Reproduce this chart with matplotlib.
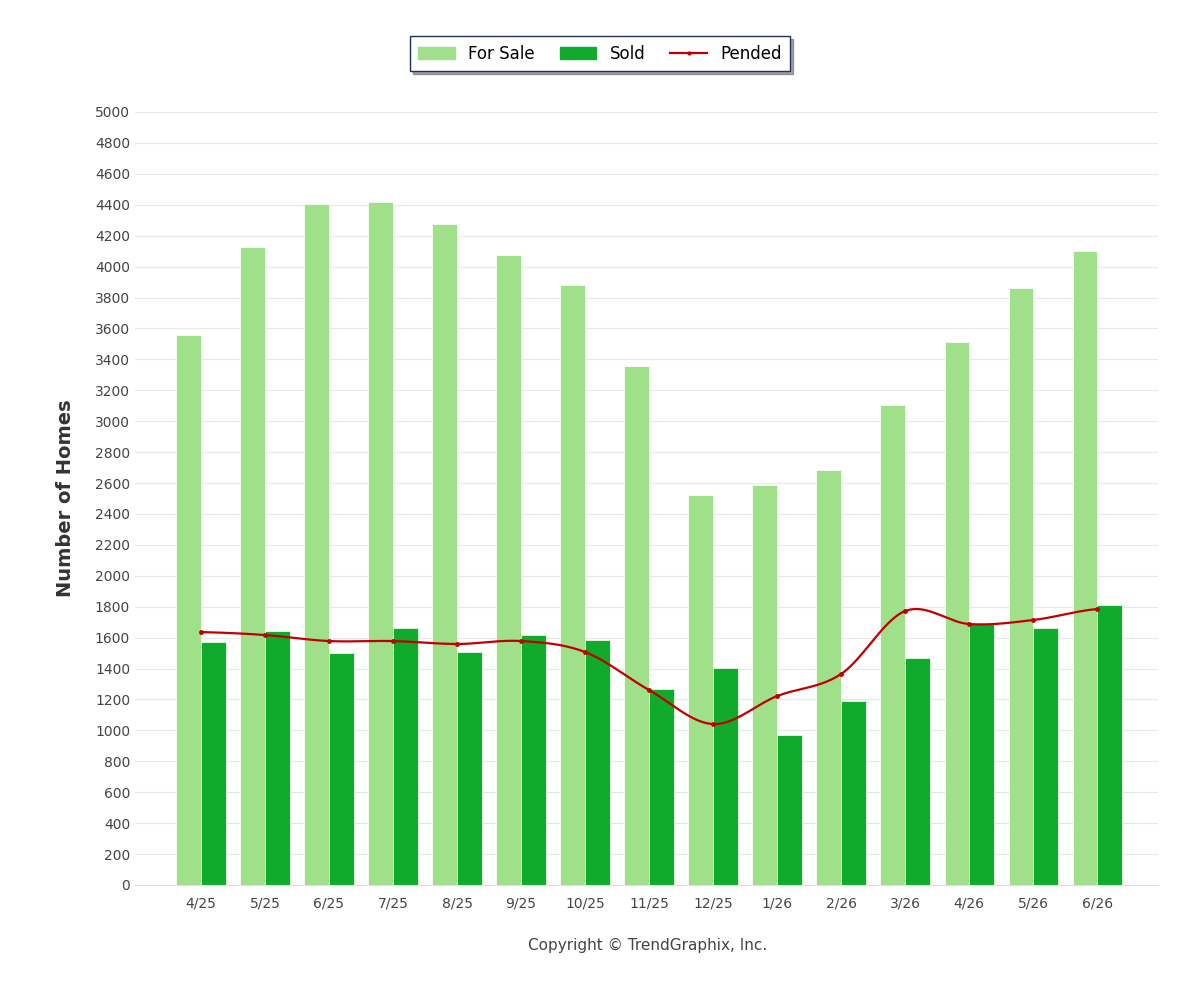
import numpy as np
import matplotlib
matplotlib.use("Agg")
import matplotlib.pyplot as plt
from matplotlib.lines import Line2D
from matplotlib.patches import Patch

# datos
meses = ["4/25", "5/25", "6/25", "7/25", "8/25", "9/25", "10/25", "11/25",
         "12/25", "1/26", "2/26", "3/26", "4/26", "5/26", "6/26"]
for_sale = [3555, 4125, 4405, 4418, 4275, 4075, 3881, 3357, 2523, 2587, 2684, 3105, 3512, 3862, 4101]
sold = [1572, 1643, 1500, 1662, 1507, 1617, 1585, 1268, 1404, 970, 1190, 1468, 1695, 1662, 1811]
pended = [1636, 1617, 1578, 1578, 1559, 1578, 1507, 1261, 1041, 1222, 1365, 1772, 1688, 1714, 1785]

def suavizar(x, y, n=20):
    # Catmull-Rom para que la linea sea curva como el original
    x = np.asarray(x, float); y = np.asarray(y, float)
    px = np.concatenate([[2*x[0]-x[1]], x, [2*x[-1]-x[-2]]])
    py = np.concatenate([[y[0]], y, [y[-1]]])
    xs, ys = [], []
    for i in range(1, len(px) - 2):
        t = np.linspace(0, 1, n, endpoint=False)
        for p, out in ((px, xs), (py, ys)):
            p0, p1, p2, p3 = p[i-1], p[i], p[i+1], p[i+2]
            out.extend(0.5*((2*p1) + (-p0+p2)*t + (2*p0-5*p1+4*p2-p3)*t**2 + (-p0+3*p1-3*p2+p3)*t**3))
    xs.append(x[-1]); ys.append(y[-1])
    return np.array(xs), np.array(ys)

fig = plt.figure(figsize=(12, 10), dpi=100)
ax = fig.add_axes([0.1125, 0.115, 0.8525, 0.773])

x = np.arange(len(meses))
w = 0.385
c_sale = "#a0e08a"
c_sold = "#10ab2a"
ax.bar(x - w/2, for_sale, w, color=c_sale, edgecolor="white", linewidth=0.5, zorder=2)
ax.bar(x + w/2, sold, w, color=c_sold, edgecolor="white", linewidth=0.5, zorder=2)
sx, sy = suavizar(x, pended)
ax.plot(sx, sy, color="#c00000", lw=1.6, zorder=3)
ax.plot(x, pended, "o", color="#c00000", ms=2.5, zorder=4)

ax.set_xlim(-1.03, 14.95)
ax.set_ylim(0, 5000)
ax.set_yticks(np.arange(0, 5001, 200))
ax.set_xticks(x)
ax.set_xticklabels(meses)
ax.tick_params(axis="both", labelsize=10, colors="#444444", length=0)
ax.tick_params(axis="x", pad=8)
ax.grid(axis="y", color="#e8e8e8", lw=0.8, zorder=0)
for s in ["left", "right", "top"]:
    ax.spines[s].set_visible(False)
ax.spines["bottom"].set_color("#dddddd")
ax.set_ylabel("Number of Homes", fontsize=14, fontweight="bold", color="#333333", labelpad=14)

handles = [Patch(color=c_sale, label="For Sale"), Patch(color=c_sold, label="Sold"),
           Line2D([0], [0], color="#c00000", lw=1.6, marker="o", ms=2, label="Pended")]
leg = fig.legend(handles=handles, loc="upper center", bbox_to_anchor=(0.5, 0.972), ncol=3,
                 fontsize=12, frameon=True, fancybox=False, shadow=True,
                 handlelength=2.2, columnspacing=1.5, borderpad=0.5)
leg.get_frame().set_edgecolor("#1f2f5f")

fig.text(0.54, 0.05, "Copyright © TrendGraphix, Inc.", ha="center", fontsize=11, color="#444444")

fig.savefig("out.png", dpi=100)
